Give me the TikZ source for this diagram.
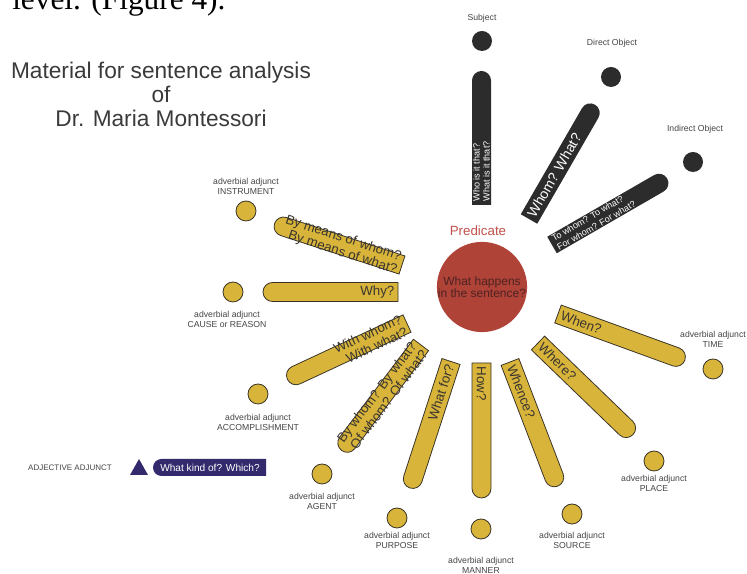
\documentclass[tikz,border=0pt]{standalone}
\usepackage{fontspec}
\setmainfont{Liberation Serif}
\setsansfont{Liberation Sans}
\usetikzlibrary{positioning}

\definecolor{gold}{HTML}{D8B53A}
\definecolor{edge}{HTML}{3A3428}
\definecolor{coal}{HTML}{2C2C2C}
\definecolor{brick}{HTML}{B04338}
\definecolor{brickl}{HTML}{C0504A}
\definecolor{maroon}{HTML}{4D2222}
\definecolor{plum}{HTML}{322A6C}
\definecolor{ink}{HTML}{3A3530}
\definecolor{labelgray}{HTML}{444444}
\definecolor{titlegray}{HTML}{3A3A3A}

% one arm: name, inner end, angle, length, bar style, text style, text
\newcommand{\qarm}[7]{%
  \begin{scope}[shift={#2}, rotate=#3]
    \path[#5] (0,-9.5) -- (#4-9.5,-9.5) arc[start angle=-90, end angle=90, radius=9.5] -- (0,9.5) -- cycle;
    \node[transform shape, #6] (#1) at (2,0) {#7};
  \end{scope}}

\begin{document}
\begin{tikzpicture}[x=0.75pt, y=0.75pt, font=\sffamily]
  \tikzstyle{dot}=[circle, minimum size=15pt, inner sep=0pt]
  \tikzstyle{gdot}=[dot, fill=gold, draw=edge, line width=0.6pt]
  \tikzstyle{kdot}=[dot, fill=coal]
  \tikzstyle{lbl}=[text=labelgray, align=center, inner sep=0pt, font=\sffamily\fontsize{6.5}{7.5}\selectfont]
  \tikzstyle{gbar}=[fill=gold, draw=edge, line width=0.6pt]
  \tikzstyle{kbar}=[fill=coal]
  \tikzstyle{txtr}=[anchor=west, align=left, inner sep=1pt]
  \tikzstyle{txtl}=[rotate=180, anchor=east, align=right, inner sep=1pt]
  \tikzstyle{gtxt}=[text=ink, font=\sffamily\fontsize{10}{10.5}\selectfont]
  \tikzstyle{ktxt}=[text=white]

  \useasboundingbox (0,0) rectangle (747,574);

  % text of the page above the figure
  \node[anchor=base west, inner sep=0pt, font=\rmfamily\fontsize{23.5}{28}\selectfont] (cap) at (12,564) {level. (Figure 4).};

  \node[text=titlegray, align=center, font=\sffamily\fontsize{17}{18}\selectfont] (title) at (161,480)
    {Material for sentence analysis\\of\\Dr. Maria Montessori};

  % predicate
  \node[circle, fill=brick, minimum size=66pt, inner sep=0pt, align=center, text=maroon,
        font=\sffamily\fontsize{9}{9}\selectfont] (pred) at (482,287) {What happens\\in the sentence?};
  \node[text=brickl, font=\sffamily\fontsize{10}{12}\selectfont] (predl) at (478,343) {Predicate};

  % subject and objects
  \qarm{tsubj}{(481.5,369)}{90}{134}{kbar}{txtr, ktxt, font=\sffamily\fontsize{6.8}{7.5}\selectfont}{Who is it that?\\What is it that?}
  \qarm{tdobj}{(529,355)}{60}{132}{kbar}{txtr, ktxt, font=\sffamily\fontsize{10.5}{12}\selectfont}{Whom? What?}
  \qarm{tiobj}{(552,329)}{30}{133}{kbar}{txtr, ktxt, font=\sffamily\fontsize{6.8}{8}\selectfont}{To whom? To what?\\For whom? For what?}

  % adverbial adjuncts
  \qarm{twhen}{(558,260)}{-20}{135}{gbar}{txtr, gtxt}{When?}
  \qarm{twhere}{(538,231)}{-44}{132}{gbar}{txtr, gtxt}{Where?}
  \qarm{twhence}{(510,212)}{-69}{133}{gbar}{txtr, gtxt}{Whence?}
  \qarm{thow}{(481.5,211)}{-90}{135}{gbar}{txtr, gtxt}{How?}
  \qarm{twhatfor}{(451,212.5)}{-108}{133}{gbar}{txtl, gtxt}{What for?}
  \qarm{tbywhom}{(421,229)}{-127}{132}{gbar}{txtl, gtxt}{By whom? By what?\\Of whom? Of what?}
  \qarm{twith}{(407,250.5)}{-155}{132}{gbar}{txtl, gtxt}{With whom?\\With what?}
  \qarm{twhy}{(398,282)}{180}{135}{gbar}{txtl, gtxt}{Why?}
  \qarm{tmeans}{(402,309)}{162}{134}{gbar}{txtl, gtxt}{By means of whom?\\By means of what?}

  \node[kdot] (subj) at (482,533) {};
  \node[lbl] (subjl) at (482,556) {Subject};
  \node[kdot] (dobj) at (611,497) {};
  \node[lbl] (dobjl) at (612,531) {Direct Object};
  \node[kdot] (iobj) at (693,412) {};
  \node[lbl] (iobjl) at (695,445) {Indirect Object};

  \node[gdot] (time) at (713,205) {};
  \node[lbl] (timel) at (713,235) {adverbial adjunct\\TIME};
  \node[gdot] (place) at (654,113) {};
  \node[lbl] (placel) at (654,91) {adverbial adjunct\\PLACE};
  \node[gdot] (source) at (572,60) {};
  \node[lbl] (sourcel) at (572,34) {adverbial adjunct\\SOURCE};
  \node[gdot] (manner) at (481,45) {};
  \node[lbl] (mannerl) at (481,9) {adverbial adjunct\\MANNER};
  \node[gdot] (purpose) at (397,56) {};
  \node[lbl] (purposel) at (397,34) {adverbial adjunct\\PURPOSE};
  \node[gdot] (agent) at (322,100) {};
  \node[lbl] (agentl) at (322,73) {adverbial adjunct\\AGENT};
  \node[gdot] (accomp) at (258,180) {};
  \node[lbl] (accompl) at (258,152) {adverbial adjunct\\ACCOMPLISHMENT};
  \node[gdot] (cause) at (233,282) {};
  \node[lbl] (causel) at (227,255) {adverbial adjunct\\CAUSE or REASON};
  \node[gdot] (instr) at (246,363) {};
  \node[lbl] (instrl) at (246,388) {adverbial adjunct\\INSTRUMENT};

  % adjective adjunct
  \node[lbl, font=\sffamily\fontsize{6}{7}\selectfont] (adjl) at (70,106) {ADJECTIVE ADJUNCT};
  \path[fill=plum] (130,99) -- (148,99) -- (139,115) -- cycle;
  \path[fill=plum] (266,98) -- (161.5,98) arc[start angle=270, end angle=90, radius=8.5] -- (266,115) -- cycle;
  \node[text=white, font=\sffamily\fontsize{7.6}{9}\selectfont] (kind) at (210,106.5) {What kind of? Which?};
\end{tikzpicture}
\end{document}
